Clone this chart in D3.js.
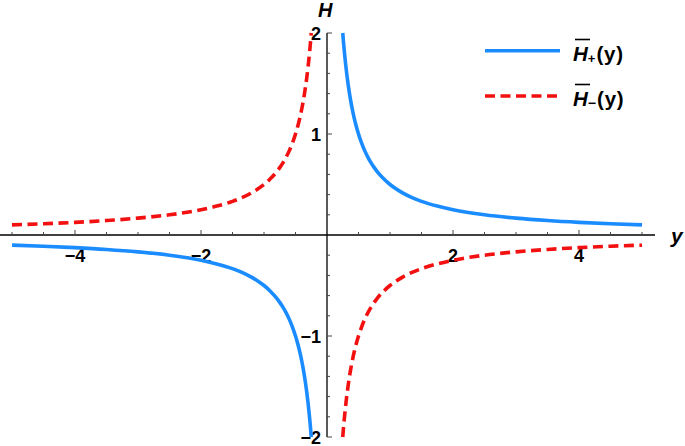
<!DOCTYPE html>
<html><head><meta charset="utf-8">
<script src="https://cdn.jsdelivr.net/npm/d3@7"></script>
<style>
body{margin:0;background:#fff;}
text{font-family:"Liberation Sans",Arial,sans-serif;font-weight:bold;}
</style></head>
<body><svg id="c" width="685" height="446"></svg>
<script>
// Data
const yRight = [0.25,0.26,0.27,0.28,0.3,0.32,0.34,0.36,0.38,0.4,0.43,0.46,0.5,0.55,0.6,0.65,0.7,0.75,0.8,0.9,1,1.1,1.2,1.35,1.5,1.75,2,2.5,3,3.5,4,4.5,5];
const hPlusRight = [2.0,1.923,1.852,1.786,1.667,1.563,1.471,1.389,1.316,1.25,1.163,1.087,1.0,0.909,0.833,0.769,0.714,0.667,0.625,0.556,0.5,0.455,0.417,0.37,0.333,0.286,0.25,0.2,0.167,0.143,0.125,0.111,0.1];
const yLeft = [-5,-4.5,-4,-3.5,-3,-2.5,-2,-1.75,-1.5,-1.35,-1.2,-1.1,-1,-0.9,-0.8,-0.75,-0.7,-0.65,-0.6,-0.55,-0.5,-0.46,-0.43,-0.4,-0.38,-0.36,-0.34,-0.32,-0.3,-0.28,-0.27,-0.26,-0.25];
const hPlusLeft = [-0.1,-0.111,-0.125,-0.143,-0.167,-0.2,-0.25,-0.286,-0.333,-0.37,-0.417,-0.455,-0.5,-0.556,-0.625,-0.667,-0.714,-0.769,-0.833,-0.909,-1.0,-1.087,-1.163,-1.25,-1.316,-1.389,-1.471,-1.563,-1.667,-1.786,-1.852,-1.923,-2.0];
const hMinusRight = [-2.0,-1.923,-1.852,-1.786,-1.667,-1.563,-1.471,-1.389,-1.316,-1.25,-1.163,-1.087,-1.0,-0.909,-0.833,-0.769,-0.714,-0.667,-0.625,-0.556,-0.5,-0.455,-0.417,-0.37,-0.333,-0.286,-0.25,-0.2,-0.167,-0.143,-0.125,-0.111,-0.1];
const hMinusLeft = [0.1,0.111,0.125,0.143,0.167,0.2,0.25,0.286,0.333,0.37,0.417,0.455,0.5,0.556,0.625,0.667,0.714,0.769,0.833,0.909,1.0,1.087,1.163,1.25,1.316,1.389,1.471,1.563,1.667,1.786,1.852,1.923,2.0];
const xTicks = [-4,-2,2,4];
const yTicks = [-2,-1,1,2];
const seriesNames = ["+","\u2212"];
const colors = ["#1a8cff","#f21010"];

const svg = d3.select("#c");
const x = d3.scaleLinear().domain([-5,5]).range([12,642]);
const y = d3.scaleLinear().domain([-2,2]).range([437,33]);
const X0 = x(0), Y0 = y(0);

// axes
const g = svg.append("g");
g.append("line").attr("x1",0).attr("x2",655).attr("y1",Y0).attr("y2",Y0).attr("stroke","#000").attr("stroke-width",1.3);
g.append("line").attr("x1",X0).attr("x2",X0).attr("y1",y(2)).attr("y2",y(-2)).attr("stroke","#000").attr("stroke-width",1.3);
const xMinor = d3.range(-10,11).map(d=>d/2).filter(d=>d!==0);
g.selectAll(".xt").data(xMinor).enter().append("line")
  .attr("x1",d=>x(d)).attr("x2",d=>x(d)).attr("y1",Y0)
  .attr("y2",d=>Y0-(Number.isInteger(d/2)?5:3)).attr("stroke","#444").attr("stroke-width",1);
const yMinor = d3.range(-10,11).map(d=>d/5).filter(d=>Math.abs(d)>1e-9);
g.selectAll(".yt").data(yMinor).enter().append("line")
  .attr("y1",d=>y(d)).attr("y2",d=>y(d)).attr("x1",X0)
  .attr("x2",d=>X0+(Math.abs(d-Math.round(d))<1e-9?5:3)).attr("stroke","#444").attr("stroke-width",1);
g.selectAll(".xl").data(xTicks).enter().append("text")
  .attr("x",d=>x(d)).attr("y",262).attr("text-anchor","middle").attr("font-size",18)
  .text(d=>d3.format("")(d).replace("-","\u2212"));
g.selectAll(".yl").data(yTicks).enter().append("text")
  .attr("x",321).attr("y",d=>y(d)+6.5).attr("text-anchor","end").attr("font-size",18)
  .text(d=>d3.format("")(d).replace("-","\u2212"));
svg.append("text").attr("x",318).attr("y",17).attr("font-size",20).attr("font-style","italic").text("H");
svg.append("text").attr("x",671).attr("y",243).attr("font-size",21).attr("font-style","italic").text("y");

// curves
const line = d3.line().x(d=>x(d[0])).y(d=>y(d[1])).curve(d3.curveMonotoneX);
const branches = [
  {xs:yRight,hs:hPlusRight,s:0},{xs:yLeft,hs:hPlusLeft,s:0},
  {xs:yRight,hs:hMinusRight,s:1},{xs:yLeft,hs:hMinusLeft,s:1}
];
branches.forEach(b=>{
  svg.append("path").datum(d3.zip(b.xs,b.hs)).attr("d",line)
    .attr("fill","none").attr("stroke",colors[b.s]).attr("stroke-width",3.6)
    .attr("stroke-dasharray",b.s===1?"10,5.5":null);
});

// legend
const lg = svg.append("g");
seriesNames.forEach((n,i)=>{
  const ly = i===0?50.7:96;
  const tb = i===0?60.5:105.5;
  lg.append("line").attr("x1",485).attr("x2",560).attr("y1",ly).attr("y2",ly)
    .attr("stroke",colors[i]).attr("stroke-width",3.6).attr("stroke-dasharray",i===1?"10,5.5":null);
  lg.append("line").attr("x1",575).attr("x2",590).attr("y1",tb-21).attr("y2",tb-21).attr("stroke","#000").attr("stroke-width",1.6);
  const t = lg.append("text").attr("x",573).attr("y",tb).attr("font-size",20.5);
  t.append("tspan").attr("font-style","italic").text("H");
  t.append("tspan").attr("font-size",i===0?13:14).attr("dy",2).text(n);
  t.append("tspan").attr("dy",-2).attr("dx",1).attr("letter-spacing",0.8).text("(y)");
});
</script></body></html>
